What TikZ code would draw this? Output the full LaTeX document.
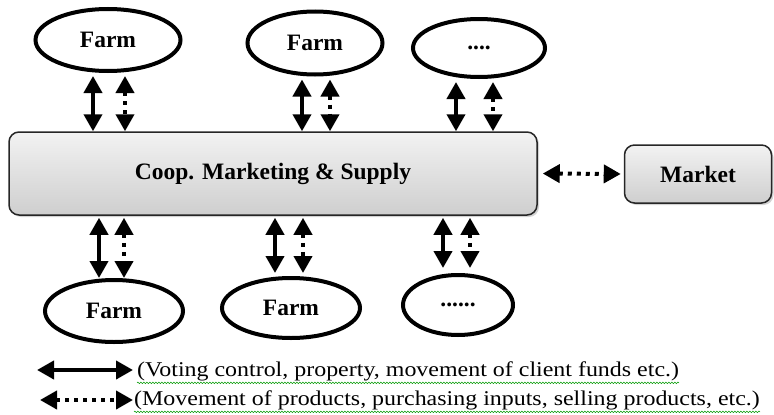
\documentclass[tikz,border=0pt]{standalone}
\usepackage{fontspec}
\setmainfont{Liberation Serif}
\usetikzlibrary{shapes.geometric,arrows.meta,shadows,decorations.pathmorphing}
\begin{document}
\begin{tikzpicture}[x=1pt,y=-1pt,
  farm/.style={ellipse, draw, line width=4pt, inner sep=0pt,
    font=\bfseries\fontsize{23.5}{25}\selectfont},
  boxnode/.style={rounded corners=10pt, draw=black!85, line width=1.5pt,
    top color=gray!10, bottom color=gray!38, inner sep=0pt,
    drop shadow={shadow xshift=2pt, shadow yshift=-2pt, opacity=0.35},
    font=\bfseries\fontsize{23.5}{25}\selectfont},
  sarr/.style={line width=4pt, {Triangle[width=18pt,length=17pt]}-{Triangle[width=18pt,length=17pt]}},
  darr/.style={sarr, dash pattern=on 4pt off 5pt},
  legtext/.style={anchor=west, inner sep=0pt, font=\fontsize{21}{23}\selectfont},
  squig/.style={green!60!black, line width=0.5pt, decorate,
    decoration={snake, amplitude=0.8pt, segment length=3pt}}
]
\useasboundingbox (0,0) rectangle (774,415);

% top farms
\node[farm, minimum width=145pt, minimum height=62pt] (f1) at (108,40) {Farm};
\node[farm, minimum width=135pt, minimum height=63pt] (f2) at (315,43) {Farm};
\node[farm, minimum width=132pt, minimum height=58pt] (f3) at (479,48) {....};

% main boxes
\node[boxnode, minimum width=528pt, minimum height=83pt] (coop) at (273,173.5) {Coop. Marketing \& Supply};
\node[boxnode, minimum width=147pt, minimum height=58pt] (market) at (698,174) {Market};

% bottom farms
\node[farm, minimum width=138pt, minimum height=62pt] (b1) at (114,311) {Farm};
\node[farm, minimum width=138pt, minimum height=60pt] (b2) at (291,308) {Farm};
\node[farm, minimum width=110pt, minimum height=60pt] (b3) at (458,305) {......};

% top arrows
\draw[sarr, shorten <=3pt] ([xshift=-15pt]f1.south) -- ([xshift=-15pt]f1.south |- coop.north);
\draw[darr, shorten <=3pt] ([xshift=17pt]f1.south) -- ([xshift=17pt]f1.south |- coop.north);
\draw[sarr, shorten <=3pt] ([xshift=-13pt]f2.south) -- ([xshift=-13pt]f2.south |- coop.north);
\draw[darr, shorten <=3pt] ([xshift=15pt]f2.south) -- ([xshift=15pt]f2.south |- coop.north);
\draw[sarr, shorten <=3pt] ([xshift=-23pt]f3.south) -- ([xshift=-23pt]f3.south |- coop.north);
\draw[darr, shorten <=3pt] ([xshift=14pt]f3.south) -- ([xshift=14pt]f3.south |- coop.north);

% bottom arrows
\draw[sarr, shorten <=2pt] ([xshift=-15pt]b1.north |- coop.south) -- ([xshift=-15pt]b1.north);
\draw[darr, shorten <=2pt] ([xshift=10pt]b1.north |- coop.south) -- ([xshift=10pt]b1.north);
\draw[sarr, shorten <=2pt, shorten >=3pt] ([xshift=-16pt]b2.north |- coop.south) -- ([xshift=-16pt]b2.north);
\draw[darr, shorten <=2pt, shorten >=3pt] ([xshift=12pt]b2.north |- coop.south) -- ([xshift=12pt]b2.north);
\draw[sarr, shorten <=2pt, shorten >=5pt] ([xshift=-15pt]b3.north |- coop.south) -- ([xshift=-15pt]b3.north);
\draw[darr, shorten <=2pt, shorten >=5pt] ([xshift=12pt]b3.north |- coop.south) -- ([xshift=12pt]b3.north);

% market arrow
\draw[darr, shorten <=5pt, shorten >=3pt] (coop.east) -- (market.west);

% legend
\coordinate (l1a) at (37,370);
\coordinate (l1b) at (133,370);
\coordinate (l2a) at (40,400);
\coordinate (l2b) at (133,400);
\draw[sarr] (l1a) -- (l1b);
\draw[darr] (l2a) -- (l2b);
\node[legtext] (t1) at (137,371) {\scalebox{1.14}[1]{(Voting control, property, movement of client funds etc.)}};
\node[legtext] (t2) at (134,400) {\scalebox{1.14}[1]{(Movement of products, purchasing inputs, selling products, etc.)}};
\draw[squig] ([yshift=-2pt]t1.south west) -- ([yshift=-2pt]t1.south east);
\draw[squig] ([yshift=-2pt]t2.south west) -- ([yshift=-2pt]t2.south east);
\end{tikzpicture}
\end{document}
